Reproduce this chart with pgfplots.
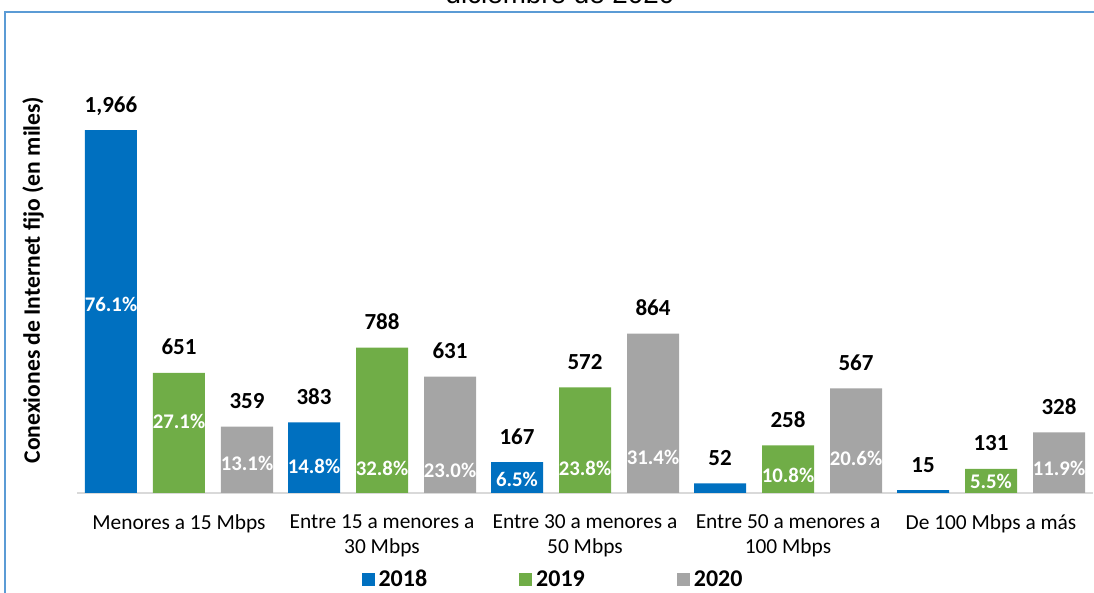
\documentclass[border=0pt]{standalone}
\usepackage{fontspec}
\setmainfont{Carlito}
\newfontfamily\titlefont{Liberation Sans}
\usepackage{pgfplots}
\pgfplotsset{compat=1.18}

\definecolor{c2018}{RGB}{0,112,192}
\definecolor{c2019}{RGB}{112,173,71}
\definecolor{c2020}{RGB}{165,165,165}
\definecolor{framecol}{RGB}{91,155,213}
\definecolor{basecol}{RGB}{217,217,217}

\begin{document}
\begin{tikzpicture}[x=1pt,y=1pt]
\path[use as bounding box] (0,0) rectangle (547,296.5);
\clip (0,0) rectangle (547,296.5);
\draw[framecol, line width=0.8pt] (2.5,-20) rectangle (600,290.5);
\node[font=\titlefont\fontsize{13.9}{16}\selectfont, anchor=base, inner sep=0pt] at (280,294.8) {diciembre de 2020};
\node[rotate=90, font=\bfseries\fontsize{11.8}{13}\selectfont] at (16.5,156.5) {Conexiones de Internet fijo (en miles)};

\begin{axis}[
  at={(38.75pt,50pt)}, anchor=south west,
  scale only axis, width=507.5pt, height=203pt,
  xmin=-0.5, xmax=4.5, ymin=0, ymax=2200,
  ybar, bar width=26pt,
  axis y line=none, axis x line*=bottom,
  x axis line style={draw=basecol, line width=0.9pt},
  xtick={0,1,2,3,4},
  xticklabels={{Menores a 15 Mbps},{Entre 15 a menores a\\30 Mbps},{Entre 30 a menores a\\50 Mbps},{Entre 50 a menores a\\100 Mbps},{De 100 Mbps a más}},
  xticklabel style={align=center, anchor=north, yshift=-7.3pt, font=\fontsize{10.7}{12.5}\selectfont},
  major tick length=0pt,
  /pgf/number format/assume math mode=true,
  /pgf/number format/1000 sep={,},
  legend columns=3,
  legend style={at={(0.4695,-0.214)}, anchor=center, draw=none, fill=none,
    font=\bfseries\fontsize{12}{13}\selectfont,
    /tikz/every even column/.append style={column sep=44pt}},
  legend image code/.code={\fill[#1] (0pt,-3.25pt) rectangle (6.5pt,3.25pt);},
  value/.style={nodes near coords, every node near coord/.append style={anchor=base, yshift=9pt, text=black, font=\bfseries\fontsize{11.5}{13}\selectfont}},
]
\addplot[bar shift=-34pt, fill=c2018, draw=none, value]
  coordinates {(0,1966) (1,383) (2,167) (3,52) (4,15)};
\addlegendentry{2018}
\addplot[bar shift=0pt, fill=c2019, draw=none, value]
  coordinates {(0,651) (1,788) (2,572) (3,258) (4,131)};
\addlegendentry{2019}
\addplot[bar shift=34pt, fill=c2020, draw=none, value]
  coordinates {(0,359) (1,631) (2,864) (3,567) (4,328)};
\addlegendentry{2020}

% percentage shares, placed inside the bars
\addplot[bar shift=0pt, draw=none, fill=none, forget plot, nodes near coords, point meta=explicit symbolic,
  every node near coord/.append style={anchor=center, text=white, font=\bfseries\fontsize{10.4}{12}\selectfont}]
  table[meta=lab] {
x y lab
-0.335 1022 76.1\%
0 388 27.1\%
0.335 161 13.1\%
0.665 143 14.8\%
1 134 32.8\%
1.335 125 23.0\%
1.665 74 6.5\%
2 134 23.8\%
2.335 192 31.4\%
3 98 10.8\%
3.335 189 20.6\%
4 61 5.5\%
4.335 134 11.9\%
};
\end{axis}
\end{tikzpicture}
\end{document}
